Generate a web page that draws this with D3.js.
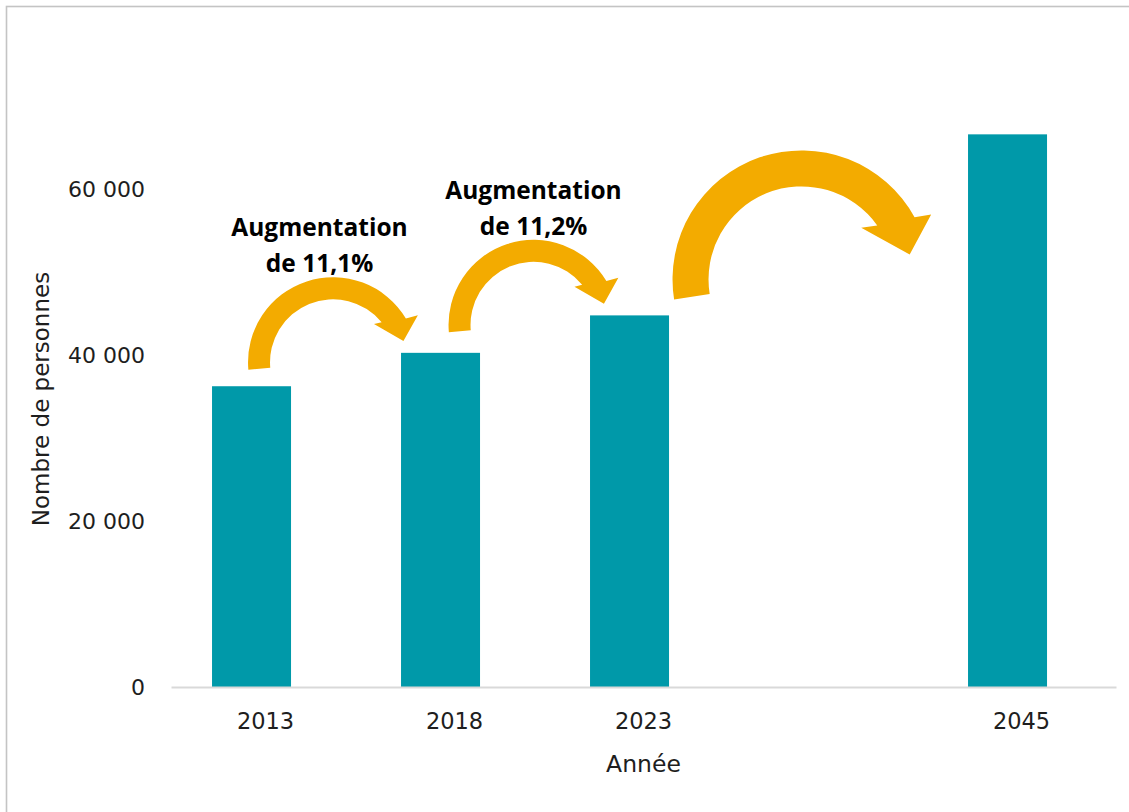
<!DOCTYPE html>
<html lang="fr">
<head>
<meta charset="utf-8">
<script src="https://cdn.jsdelivr.net/npm/d3@7"></script>
<style>
  html, body { margin: 0; padding: 0; background: #ffffff; }
  svg { display: block; }
</style>
</head>
<body>
<svg id="chart" width="1129" height="812"></svg>
<script>
// Population par année (l'emplacement vide sépare 2023 de la projection 2045)
const categories = ["2013", "2018", "2023", "", "2045"];
const values = [36300, 40330, 44850, null, 66700];
const yTicks = [0, 20000, 40000, 60000];
const xTitle = "Année";
const yTitle = "Nombre de personnes";
const growthPrefix = "Augmentation";
const growthSuffix = "de ";

// Flèches reliant deux années (indices dans categories)
const arrowFrom = [0, 1, 2];
const arrowTo = [1, 2, 4];
const arrowLabelled = [true, true, false];

// ---- mise en page ----
const W = 1129, H = 812;
const plot = { left: 171, right: 1116, top: 107, bottom: 687 };
const teal = "#0099a9";
const orange = "#f3ab00";
const textColor = "#1e1e1e";
const tickFont = "'DejaVu Sans', sans-serif";
const boldFont = "'Open Sans', sans-serif";

const fr = d3.formatLocale({ decimal: ",", thousands: " ", grouping: [3], currency: ["", " €"], percent: "%" });
const fmtNum = fr.format(",.0f");
const fmtPct = fr.format(".1%");

const svg = d3.select("#chart");

// cadre
svg.append("rect")
  .attr("x", 6.5).attr("y", 6.5)
  .attr("width", W + 50).attr("height", H + 50)
  .attr("fill", "none").attr("stroke", "#c4c4c4").attr("stroke-width", 1.6);

// échelles
const xTick = d3.scaleBand().domain(categories).range([plot.left, plot.right]);
const xBar = d3.scaleBand().domain(categories).range([plot.left, plot.right])
  .paddingInner(0.582).paddingOuter(0.291).align(0.373);
const y = d3.scaleLinear().domain([0, 70000]).range([plot.bottom, plot.top]);

// barres
const rows = categories.map((c, i) => ({ cat: c, value: values[i] })).filter(d => d.value != null);
svg.append("g").selectAll("rect").data(rows).join("rect")
  .attr("x", d => xBar(d.cat))
  .attr("width", xBar.bandwidth())
  .attr("y", d => y(d.value))
  .attr("height", d => y(0) - y(d.value))
  .attr("fill", teal);

// axe des x
const gx = svg.append("g")
  .attr("transform", `translate(0,${plot.bottom})`)
  .call(d3.axisBottom(xTick).tickSize(0).tickPadding(26));
gx.select(".domain").attr("stroke", "#d9d9d9").attr("stroke-width", 1.8);
gx.selectAll(".tick text")
  .attr("font-family", tickFont).attr("font-size", 22.5).attr("fill", textColor);

// axe des y
const gy = svg.append("g")
  .attr("transform", `translate(${plot.left},0)`)
  .call(d3.axisLeft(y).tickValues(yTicks).tickSize(0).tickPadding(26).tickFormat(fmtNum));
gy.select(".domain").remove();
gy.selectAll(".tick text")
  .attr("font-family", tickFont).attr("font-size", 22).attr("fill", textColor);

// titres des axes
svg.append("text")
  .attr("x", (plot.left + plot.right) / 2).attr("y", 772)
  .attr("text-anchor", "middle")
  .attr("font-family", tickFont).attr("font-size", 23.5).attr("fill", textColor)
  .text(xTitle);
svg.append("text")
  .attr("transform", `translate(49,${(plot.top + plot.bottom) / 2 + 2}) rotate(-90)`)
  .attr("text-anchor", "middle")
  .attr("font-family", tickFont).attr("font-size", 23).attr("fill", textColor)
  .text(yTitle);

// flèches courbes : angles en degrés (sens trigonométrique), rayons en px
const shapes = {
  small: { R: 85, r: 63, tail: 185, outerEnd: 31, outerBarb: [29, 97], tip: [16.7, 73.5], innerBarb: [43, 56], innerEnd: 39.5 },
  large: { R: 129, r: 93, tail: 189, outerEnd: 28.8, outerBarb: [26.6, 145], tip: [13, 111], innerBarb: [40.9, 79], innerEnd: 35.5 }
};
const arrowLayout = [
  { shape: "small", dx: 81.5, dy: -24, labelDx: -13.5 },
  { shape: "small", dx: 93, dy: -28, labelDx: 0 },
  { shape: "large", dx: 172, dy: -36, labelDx: 0 }
];

function circularArrow(cx, cy, s) {
  const pt = (a, rad) => {
    const t = a * Math.PI / 180;
    return [cx + rad * Math.cos(t), cy - rad * Math.sin(t)];
  };
  const o0 = pt(s.tail, s.R), o1 = pt(s.outerEnd, s.R);
  const i1 = pt(s.innerEnd, s.r), i0 = pt(s.tail, s.r);
  const large = (s.tail - s.outerEnd) > 180 ? 1 : 0;
  let d = `M${o0}A${s.R},${s.R} 0 ${large} 1 ${o1}`;
  d += `L${pt(...s.outerBarb)}L${pt(...s.tip)}L${pt(...s.innerBarb)}L${i1}`;
  d += `A${s.r},${s.r} 0 ${large} 0 ${i0}Z`;
  return d;
}

arrowFrom.forEach((from, k) => {
  const to = arrowTo[k];
  const lay = arrowLayout[k];
  const cx = xBar(categories[from]) + xBar.bandwidth() / 2 + lay.dx;
  const cy = y(values[from]) + lay.dy;
  svg.append("path")
    .attr("d", circularArrow(cx, cy, shapes[lay.shape]))
    .attr("fill", orange);
  if (arrowLabelled[k]) {
    const growth = values[to] / values[from] - 1;
    const t = svg.append("text")
      .attr("text-anchor", "middle")
      .attr("font-family", boldFont).attr("font-weight", 700)
      .attr("font-size", 24.5).attr("fill", "#000");
    t.append("tspan").attr("x", cx + lay.labelDx).attr("y", cy - 126).text(growthPrefix);
    t.append("tspan").attr("x", cx + lay.labelDx).attr("y", cy - 90).text(growthSuffix + fmtPct(growth));
  }
});
</script>
</body>
</html>
